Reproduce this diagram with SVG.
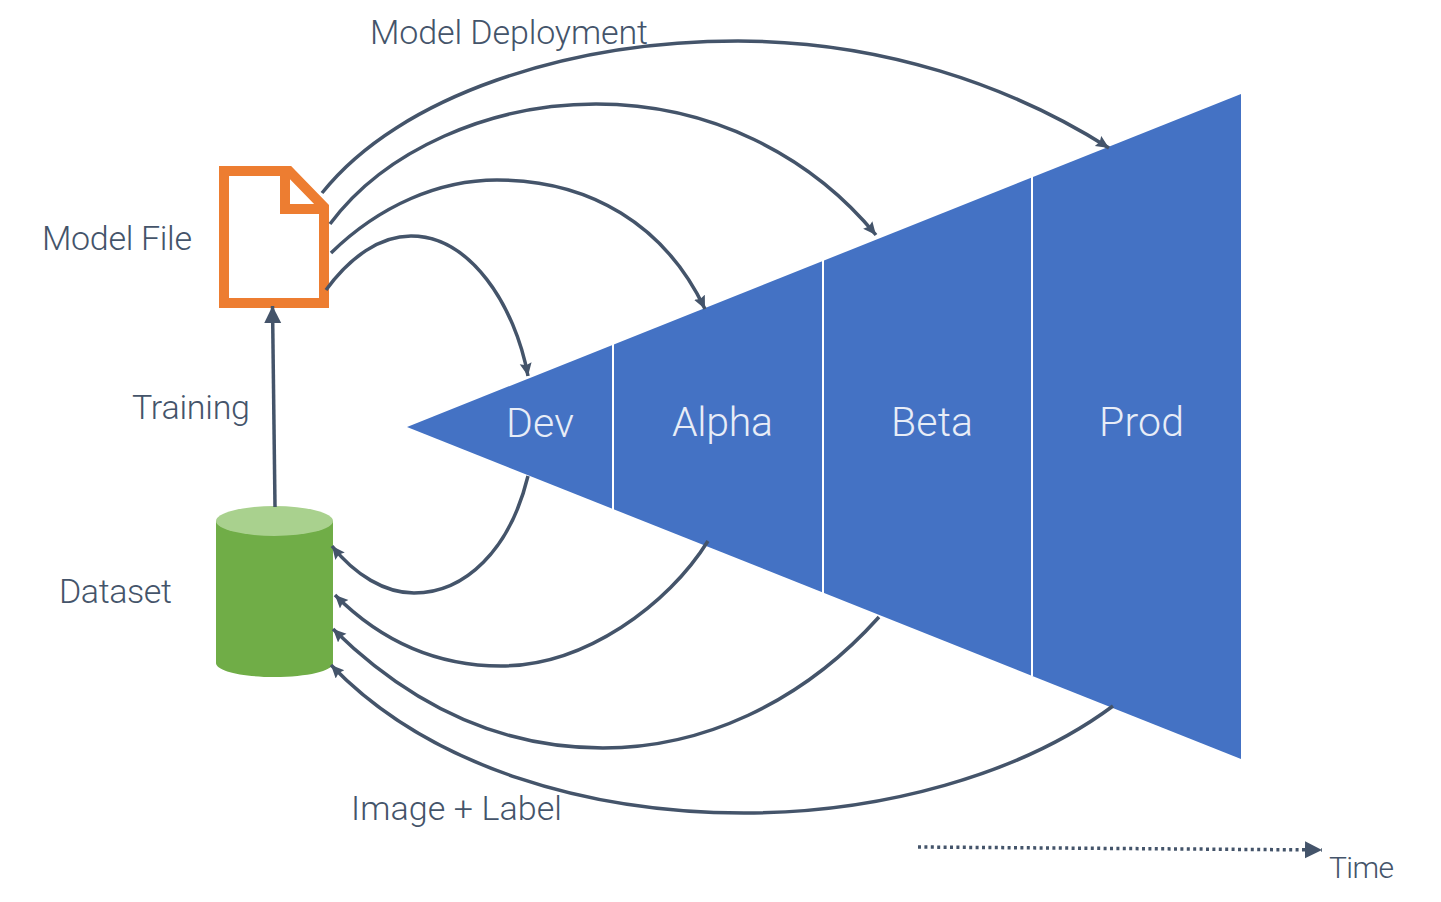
<svg xmlns="http://www.w3.org/2000/svg" width="1441" height="902" viewBox="0 0 1441 902">
<style>
text{font-family:"Roboto","Liberation Sans",sans-serif;font-weight:300;fill:#44546a;font-size:34px}
.w{fill:#e8edf7;font-size:41px}
.c{fill:none;stroke:#44546a;stroke-width:3.500;marker-end:url(#a)}
.d{stroke:#fff;stroke-width:2;fill:none}
</style>
<defs>
<marker id="a" markerUnits="userSpaceOnUse" markerWidth="16" markerHeight="14" refX="13" refY="6" orient="auto"><path d="M0,0L13,6L0,12L2,6Z" fill="#44546a"/></marker>
<marker id="b" markerUnits="userSpaceOnUse" markerWidth="18" markerHeight="18" refX="17" refY="8.500" orient="auto"><path d="M0,0L17,8.500L0,17Z" fill="#44546a"/></marker>
</defs>
<rect width="1441" height="902" fill="#fff"/>
<g id="funnel">
<path d="M407,427L1241,94V759Z" fill="#4472c4"/>
<path class="d" d="M613,343V510M823,259V593M1032,176V676"/>
<text class="w" x="506" y="437" textLength="68">Dev</text>
<text class="w" x="672" y="436" textLength="101">Alpha</text>
<text class="w" x="891" y="436" textLength="82">Beta</text>
<text class="w" x="1099" y="436" textLength="85">Prod</text>
</g>
<g id="model-file">
<path d="M224,171H289L324,207V303H224Z" fill="#fff" stroke="#ed7d31" stroke-width="10"/>
<path d="M285,171V209H324" fill="none" stroke="#ed7d31" stroke-width="10"/>
<text x="42" y="250" textLength="150">Model File</text>
</g>
<g id="dataset">
<path d="M216,521V663C216,671 242,677 274.500,677C307,677 333,671 333,663V521Z" fill="#70ad47"/>
<ellipse cx="274.500" cy="521" rx="58.500" ry="15" fill="#a9d18e"/>
<text x="59" y="603" textLength="113">Dataset</text>
</g>
<g id="connectors">
<path d="M275,507L272.500,306" fill="none" stroke="#44546a" stroke-width="3.500" marker-end="url(#b)"/>
<path class="c" d="M322,193C400,95 570,41 738,41C880,41 1010,85 1109,148"/>
<path class="c" d="M330,224C385,150 490,104 596,104C710,104 810,155 876,235"/>
<path class="c" d="M331,253C380,205 440,180 497,180C590,180 665,225 705,309"/>
<path class="c" d="M326,290C350,257 380,236 411,236C470,236 515,305 528,376"/>
<path class="c" d="M528,476C510,550 465,593 414,593C385,593 355,575 332,546"/>
<path class="c" d="M708,541C668,605 585,666 501,666C435,666 380,640 335,595"/>
<path class="c" d="M879,617C800,705 700,748 603,748C500,748 410,705 333,629"/>
<path class="c" d="M1113,706C1020,775 880,813 744,813C590,813 430,768 331,665"/>
<path d="M918,847L1322,850" fill="none" stroke="#44546a" stroke-width="3.500" stroke-dasharray="3 3.400" marker-end="url(#b)"/>
</g>
<g id="labels">
<text x="370" y="44" textLength="278">Model Deployment</text>
<text x="132" y="419" textLength="118">Training</text>
<text x="351" y="820" textLength="211">Image + Label</text>
<text x="1329" y="878" textLength="65" style="font-size:30px">Time</text>
</g>
</svg>
